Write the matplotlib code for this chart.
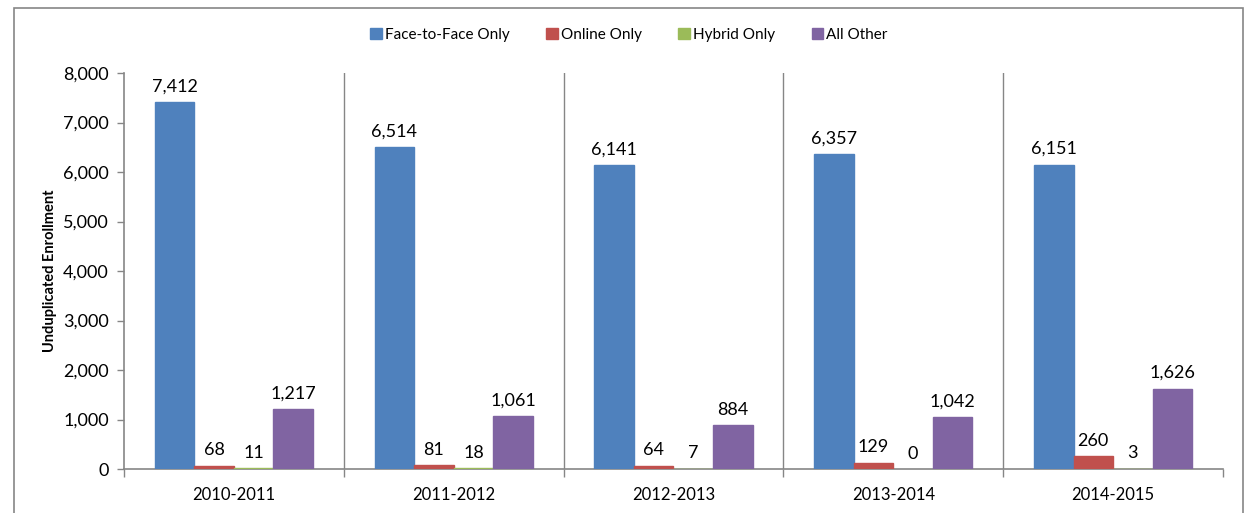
import numpy as np
import matplotlib
matplotlib.use("Agg")
import matplotlib.pyplot as plt
from matplotlib.patches import Rectangle
from matplotlib.ticker import FuncFormatter

plt.rcParams['font.family'] = ['Lato', 'DejaVu Sans']

# data
years = ["2010-2011", "2011-2012", "2012-2013", "2013-2014", "2014-2015"]
series = ["Face-to-Face Only", "Online Only", "Hybrid Only", "All Other"]
face = [7412, 6514, 6141, 6357, 6151]
online = [68, 81, 64, 129, 260]
hybrid = [11, 18, 7, 0, 3]
other = [1217, 1061, 884, 1042, 1626]
colors = ["#4F81BD", "#C0504D", "#9BBB59", "#8064A2"]

grey = "#868686"

fig = plt.figure(figsize=(12.47, 5.13), dpi=100)
ax = fig.add_axes([124/1247, 1-469/513, (1223-124)/1247, (469-73)/513])

# outer chart border
fig.patches.append(Rectangle((14/1247, -0.05), (1243-14)/1247, 1.05-8/513,
                             transform=fig.transFigure, fill=False,
                             edgecolor=grey, linewidth=1.2))

x = np.arange(len(years))
w = 0.18
allvals = [face, online, hybrid, other]
for i, vals in enumerate(allvals):
    pos = x + (i - 1.5) * w
    lw = [1.0 if v else 0 for v in vals]
    ax.bar(pos, vals, w, color=colors[i], edgecolor=colors[i], linewidth=lw,
           label=series[i], zorder=3)
    for p, v in zip(pos, vals):
        ax.text(p, v + 150, f"{v:,}", ha="center", va="bottom", fontsize=13)

ax.set_xlim(-0.5, len(years) - 0.5)
ax.set_ylim(0, 8000)
ax.set_yticks(np.arange(0, 8001, 1000))
ax.yaxis.set_major_formatter(FuncFormatter(lambda v, p: f"{int(v):,}"))

# category separators
for b in np.arange(0.5, len(years) - 0.5, 1):
    ax.axvline(b, color=grey, linewidth=1, zorder=1)

ax.set_xticks(np.arange(-0.5, len(years), 1))
ax.set_xticklabels([])
ax.set_xticks(x, minor=True)
ax.set_xticklabels(years, minor=True, fontsize=12)
ax.tick_params(axis="x", which="minor", length=0, pad=13)
ax.tick_params(axis="x", which="major", length=6, color=grey, width=1)
ax.tick_params(axis="y", length=5, color=grey, width=1, labelsize=13, pad=6)

for s in ["top", "right"]:
    ax.spines[s].set_visible(False)
for s in ["left", "bottom"]:
    ax.spines[s].set_color(grey)
    ax.spines[s].set_linewidth(1.2)

ax.set_ylabel("Unduplicated Enrollment", fontsize=10.5, fontweight="bold", labelpad=4)

fig.legend(loc="center", bbox_to_anchor=(629/1247, 1-35/513), ncol=4, frameon=False,
           fontsize=11, handlelength=0.75, handleheight=0.75, handletextpad=0.2,
           columnspacing=2.4)

fig.savefig("out.png", dpi=100)
